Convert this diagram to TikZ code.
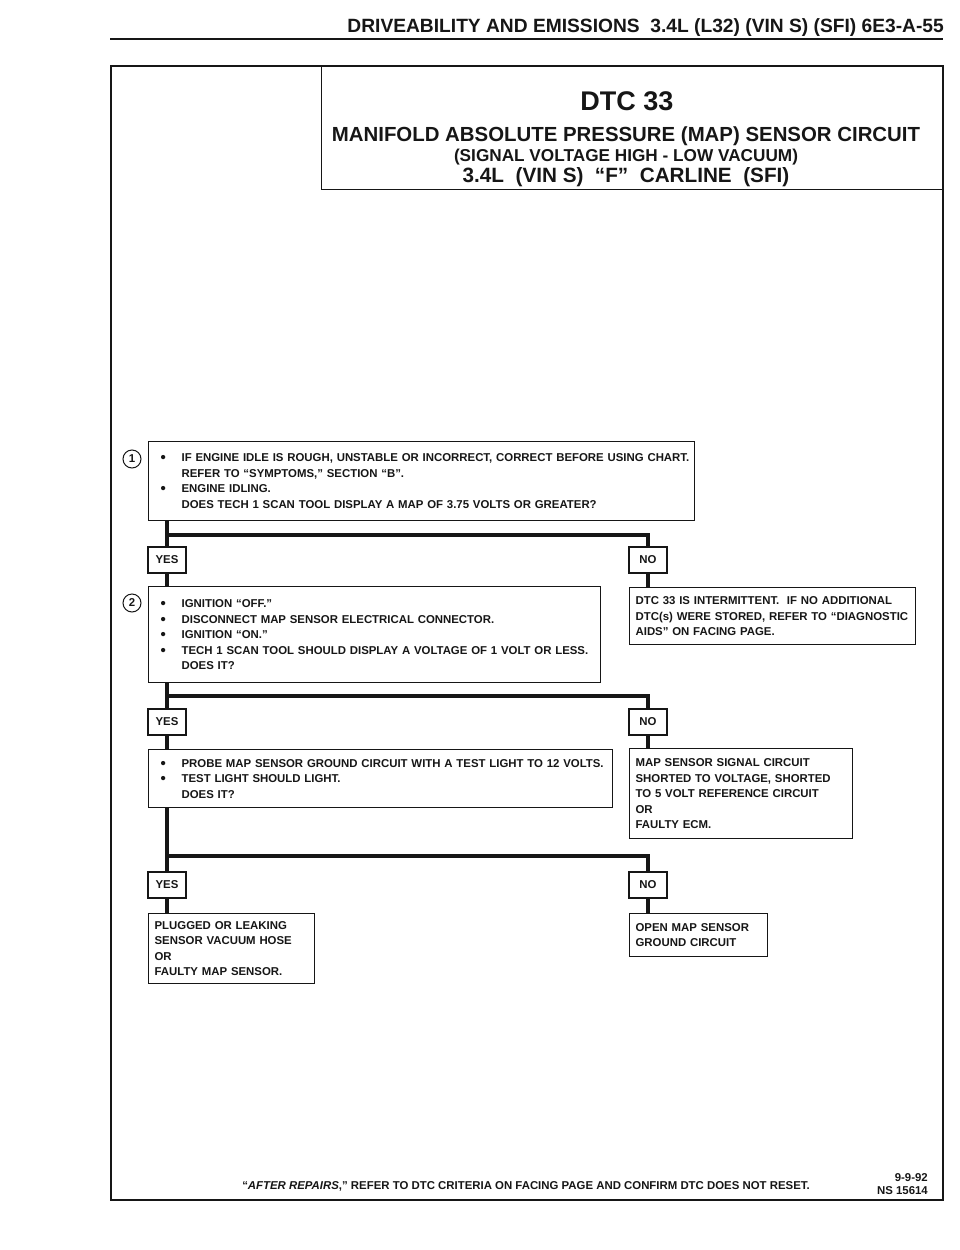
\documentclass[tikz,border=0pt]{standalone}
\usepackage{fontspec}
\setmainfont{Liberation Sans}
\usepackage{tikz}
\usetikzlibrary{positioning}
\definecolor{ink}{HTML}{161616}
\newcommand{\boxfont}{\fontsize{11.4}{15.5}\selectfont\bfseries}
\newcommand{\bitem}[1]{\makebox[27pt][l]{\hspace{6pt}\raisebox{-1.2pt}{\fontsize{15}{15}\selectfont\textbullet}}\mbox{#1}}
\newcommand{\bskip}[1]{\hspace*{27pt}\mbox{#1}}
\tikzset{
  box/.style    = {draw=ink, line width=1.2pt, align=left, anchor=north west,
                   inner xsep=6pt, inner ysep=3pt, font=\boxfont, text=ink},
  ansbox/.style = {draw=ink, line width=1.2pt, minimum width=38pt, minimum height=26pt,
                   inner sep=0pt, font=\boxfont, text=ink},
  numc/.style   = {circle, draw=ink, line width=1pt, minimum size=18pt, inner sep=0pt,
                   font=\boxfont, text=ink},
  wire/.style   = {draw=ink, line width=4pt},
  ttl/.style    = {anchor=base, text=ink, inner sep=0pt},
  lbl/.style    = {font=\boxfont, text=ink, inner sep=0pt},
}

\begin{document}
\begin{tikzpicture}[x=1pt, y=-1pt]
  \useasboundingbox (0,0) rectangle (960,1250);
  \node[ttl, anchor=base east, font=\fontsize{19.2}{20}\selectfont\bfseries] (hdr) at (944,32)
    {DRIVEABILITY AND EMISSIONS\ \ 3.4L (L32) (VIN S) (SFI) 6E3-A-55};
  \draw[ink, line width=2pt] (110,39) -- (943,39);
  \draw[ink, line width=2.4pt] (111,66) rectangle (943,1200);
  \node[draw=ink, line width=1.2pt, anchor=north west, minimum width=622pt, minimum height=123pt] (ttlbox) at (321,66) {};
  \node[ttl, font=\fontsize{27}{28}\selectfont\bfseries] (dtc) at (627,110) {DTC 33};
  \node[ttl, font=\fontsize{20.4}{22}\selectfont\bfseries] (ttlmain) at (626,141) {MANIFOLD ABSOLUTE PRESSURE (MAP) SENSOR CIRCUIT};
  \node[ttl, font=\fontsize{17.2}{18}\selectfont\bfseries] (ttlsub) at (626,161) {(SIGNAL VOLTAGE HIGH - LOW VACUUM)};
  \node[ttl, font=\fontsize{20.7}{22}\selectfont\bfseries] (ttlcar) at (626,182) {3.4L\ \ (VIN S)\ \ ``F''\ \ CARLINE\ \ (SFI)};

  \node[numc] (n1) at (132,459) {1};
  \node[box, text width=534pt, minimum height=79pt] (q1) at (148,441)
    {\bitem{IF ENGINE IDLE IS ROUGH, UNSTABLE OR INCORRECT, CORRECT BEFORE USING CHART.}\\
     \bskip{REFER TO ``SYMPTOMS,'' SECTION ``B''.}\\
     \bitem{ENGINE IDLING.}\\
     \bskip{DOES TECH 1 SCAN TOOL DISPLAY A MAP OF 3.75 VOLTS OR GREATER?}};
  \node[ansbox] (yes1) at (167,560) {YES};
  \node[ansbox] (no1) at (648,560) {NO};
  \coordinate (b1) at (167,535);
  \draw[wire] (q1.south -| b1) -- (yes1.north); \draw[wire] (b1) -| (no1.north);

  \node[numc] (n2) at (132,603) {2};
  \node[box, text width=440pt, minimum height=96pt] (q2) at (148,586)
    {\bitem{IGNITION ``OFF.''}\\
     \bitem{DISCONNECT MAP SENSOR ELECTRICAL CONNECTOR.}\\
     \bitem{IGNITION ``ON.''}\\
     \bitem{TECH 1 SCAN TOOL SHOULD DISPLAY A VOLTAGE OF 1 VOLT OR LESS.}\\
     \bskip{DOES IT?}};
  \node[box, text width=274pt, minimum height=57pt] (r1) at (629,587)
    {DTC 33 IS INTERMITTENT.\ \ IF NO ADDITIONAL\\
     DTC(s) WERE STORED, REFER TO ``DIAGNOSTIC\\
     AIDS'' ON FACING PAGE.};
  \draw[wire] (yes1.south) -- (yes1.south |- q2.north); \draw[wire] (no1.south) -- (no1.south |- r1.north);

  \node[ansbox] (yes2) at (167,722) {YES};
  \node[ansbox] (no2) at (648,722) {NO};
  \coordinate (b2) at (167,696);
  \draw[wire] (q2.south -| b2) -- (yes2.north); \draw[wire] (b2) -| (no2.north);
  \node[box, text width=452pt, minimum height=58pt] (q3) at (148,749)
    {\bitem{PROBE MAP SENSOR GROUND CIRCUIT WITH A TEST LIGHT TO 12 VOLTS.}\\
     \bitem{TEST LIGHT SHOULD LIGHT.}\\
     \bskip{DOES IT?}};
  \node[box, text width=211pt, minimum height=90pt] (r2) at (629,748)
    {MAP SENSOR SIGNAL CIRCUIT\\
     SHORTED TO VOLTAGE, SHORTED\\
     TO 5 VOLT REFERENCE CIRCUIT\\
     OR\\
     FAULTY ECM.};
  \draw[wire] (yes2.south) -- (yes2.south |- q3.north); \draw[wire] (no2.south) -- (no2.south |- r2.north);

  \node[ansbox] (yes3) at (167,885) {YES};
  \node[ansbox] (no3) at (648,885) {NO};
  \coordinate (b3) at (167,856);
  \draw[wire] (q3.south -| b3) -- (yes3.north); \draw[wire] (b3) -| (no3.north);
  \node[box, text width=154pt, minimum height=70pt] (r3) at (148,913)
    {PLUGGED OR LEAKING\\
     SENSOR VACUUM HOSE\\
     OR\\
     FAULTY MAP SENSOR.};
  \node[box, text width=126pt, minimum height=43pt] (r4) at (629,913)
    {OPEN MAP SENSOR\\
     GROUND CIRCUIT};
  \draw[wire] (yes3.south) -- (yes3.south |- r3.north); \draw[wire] (no3.south) -- (no3.south |- r4.north);

  \node[lbl] (rep) at (526,1186)
    {``\textit{AFTER REPAIRS},'' REFER TO DTC CRITERIA ON FACING PAGE AND CONFIRM DTC DOES NOT RESET.};
  \node[lbl, align=right, anchor=east, font=\fontsize{11.4}{13}\selectfont\bfseries] (fig) at (928,1184) {9-9-92\\NS 15614};
\end{tikzpicture}
\end{document}
